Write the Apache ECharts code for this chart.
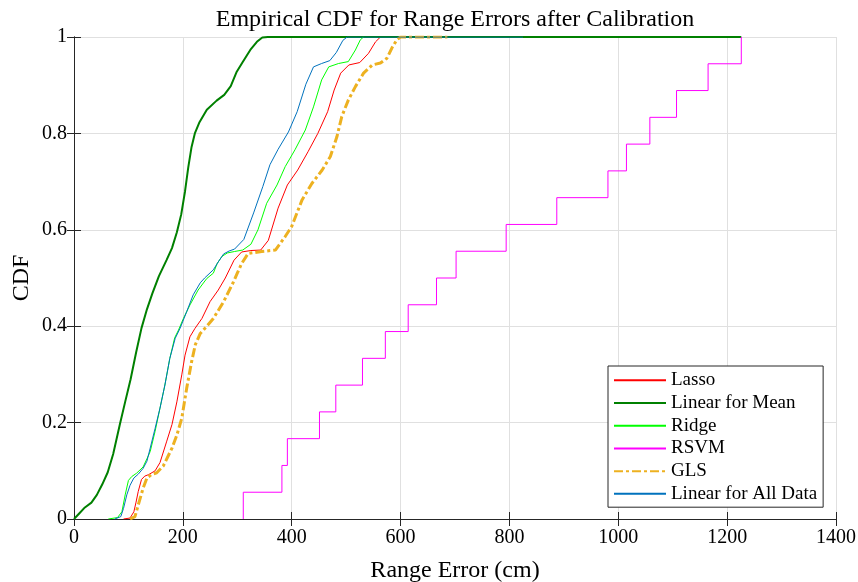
<!DOCTYPE html>
<html>
<head>
<meta charset="utf-8">
<script src="https://cdn.jsdelivr.net/npm/echarts@6/dist/echarts.min.js"></script>
<style>
  html, body { margin: 0; padding: 0; background: #ffffff; }
  #chart { width: 858px; height: 582px; }
</style>
</head>
<body>
<div id="chart"></div>
<script>
// Empirical CDF curves: [range error (cm), cumulative probability]
const lasso = [
  [91,0],[103,0.002],[110,0.015],[114,0.035],[118,0.057],[124,0.082],[130,0.089],[137,0.092],
  [149,0.1],[158,0.117],[170,0.16],[180,0.196],[189,0.243],[198,0.299],[204,0.34],[213,0.378],
  [222,0.395],[235,0.416],[250,0.451],[265,0.475],[278,0.5],[294,0.537],[308,0.554],[325,0.557],
  [343,0.558],[357,0.578],[375,0.645],[392,0.693],[411,0.724],[430,0.762],[448,0.8],[466,0.845],
  [478,0.89],[490,0.925],[505,0.942],[525,0.947],[541,0.966],[554,0.99],[563,1]
];
const linearMean = [
  [0,0],[10,0.012],[20,0.024],[32,0.034],[42,0.05],[52,0.072],[62,0.097],[72,0.135],[84,0.195],
  [94,0.243],[104,0.29],[114,0.345],[124,0.396],[134,0.435],[144,0.468],[156,0.504],[170,0.537],
  [180,0.562],[189,0.595],[197,0.632],[204,0.68],[210,0.73],[216,0.772],[222,0.8],[230,0.822],
  [244,0.849],[262,0.868],[276,0.88],[288,0.898],[299,0.928],[310,0.948],[325,0.975],
  [336,0.99],[346,0.999],[356,1],[1226,1]
];
const ridge = [
  [63,0],[80,0.003],[88,0.015],[94,0.05],[100,0.08],[106,0.088],[115,0.095],[127,0.108],
  [134,0.125],[140,0.14],[149,0.182],[158,0.23],[167,0.278],[176,0.333],[185,0.376],[192,0.392],
  [201,0.416],[213,0.444],[228,0.475],[244,0.499],[256,0.51],[263,0.53],[272,0.545],[282,0.552],
  [295,0.555],[310,0.558],[325,0.57],[338,0.6],[354,0.655],[373,0.693],[388,0.731],[406,0.766],
  [425,0.807],[440,0.855],[455,0.911],[468,0.938],[486,0.945],[504,0.949],[517,0.973],[526,0.994],
  [532,1]
];
// RSVM errors (cm); its CDF is the step function of these samples
const rsvmErrors = [311, 382, 392, 451, 481, 530, 572, 614, 666, 702, 794, 887, 981, 1015, 1058, 1107, 1165, 1226];
const gls = [
  [103,0],[112,0.005],[118,0.029],[127,0.064],[134,0.085],[142,0.092],[152,0.096],[164,0.11],
  [180,0.147],[189,0.174],[198,0.209],[207,0.271],[216,0.326],[223,0.362],[232,0.385],[244,0.4],
  [256,0.416],[275,0.451],[293,0.492],[300,0.51],[308,0.53],[320,0.551],[345,0.555],[370,0.558],
  [388,0.586],[400,0.607],[419,0.662],[437,0.696],[456,0.724],[471,0.752],[483,0.793],[492,0.835],
  [504,0.869],[517,0.897],[532,0.925],[548,0.942],[563,0.946],[575,0.956],[584,0.977],[593,0.994],
  [600,1],[686,1]
];
const linearAll = [
  [75,0],[86,0.005],[91,0.022],[97,0.05],[103,0.07],[110,0.085],[118,0.093],[127,0.105],
  [134,0.12],[140,0.147],[149,0.188],[158,0.23],[167,0.278],[176,0.333],[186,0.375],[195,0.396],
  [207,0.43],[219,0.465],[232,0.49],[240,0.5],[256,0.517],[266,0.535],[275,0.55],[285,0.556],
  [295,0.56],[312,0.58],[330,0.635],[347,0.69],[360,0.735],[375,0.767],[394,0.803],[410,0.845],
  [426,0.902],[440,0.938],[455,0.945],[470,0.951],[482,0.968],[494,0.993],[502,1],[825,1]
];

const seriesNames = ['Lasso', 'Linear for Mean', 'Ridge', 'RSVM', 'GLS', 'Linear for All Data'];
const xTicks = { min: 0, max: 1400, step: 200 };
const yTicks = { min: 0, max: 1, step: 0.2 };

function ecdf(samples) {
  const s = samples.slice().sort((a, b) => a - b);
  const n = s.length;
  const pts = [[s[0], 0]];
  s.forEach((v, i) => pts.push([v, (i + 1) / n]));
  return pts;
}

const FONT = "'Liberation Serif', 'Times New Roman', serif";
const AXIS_COLOR = '#262626';

const chart = echarts.init(document.getElementById('chart'), null, { renderer: 'canvas' });

function lineSeries(name, data, color, width, extra) {
  return Object.assign({
    name: name,
    type: 'line',
    data: data,
    showSymbol: false,
    symbol: 'none',
    smooth: false,
    animation: false,
    xAxisIndex: 0,
    yAxisIndex: 0,
    lineStyle: { color: color, width: width },
    itemStyle: { color: color }
  }, extra || {});
}

const frameAxis = {
  axisLine: { show: true, lineStyle: { color: AXIS_COLOR, width: 1 } },
  axisTick: { show: true, inside: true, length: 7, lineStyle: { color: AXIS_COLOR, width: 1 } },
  axisLabel: { show: false },
  splitLine: { show: false }
};

const option = {
  backgroundColor: '#ffffff',
  animation: false,
  title: {
    text: 'Empirical CDF for Range Errors after Calibration',
    left: 455,
    top: 8,
    textAlign: 'center',
    padding: 0,
    textStyle: { fontFamily: FONT, fontSize: 24, fontWeight: 'normal', color: '#000000' }
  },
  grid: {
    left: 74, right: 22, top: 37, bottom: 63,
    containLabel: false,
    outerBoundsMode: 'none'
  },
  legend: {
    data: seriesNames,
    orient: 'vertical',
    left: 608,
    top: 366,
    padding: [3, 6, 2, 5],
    itemGap: 0,
    itemWidth: 52,
    itemHeight: 14,
    backgroundColor: '#ffffff',
    borderColor: AXIS_COLOR,
    borderWidth: 1,
    borderRadius: 0,
    itemStyle: { opacity: 0 },
    textStyle: { fontFamily: FONT, fontSize: 19, color: '#000000', lineHeight: 22.7 }
  },
  xAxis: [
    {
      type: 'value', position: 'bottom',
      min: xTicks.min, max: xTicks.max, interval: xTicks.step,
      name: 'Range Error (cm)', nameLocation: 'middle', nameGap: 40, nameMoveOverlap: false,
      nameTextStyle: { fontFamily: FONT, fontSize: 24, color: '#000000' },
      axisLine: { show: true, onZero: false, lineStyle: { color: AXIS_COLOR, width: 1 } },
      axisTick: { show: true, inside: true, length: 7, lineStyle: { color: AXIS_COLOR, width: 1 } },
      axisLabel: {
        show: true, margin: 9, fontFamily: FONT, fontSize: 20, color: '#000000',
        formatter: (v) => String(v)
      },
      splitLine: { show: true, lineStyle: { color: '#e0e0e0', width: 1 } }
    },
    Object.assign({
      type: 'value', position: 'top',
      min: xTicks.min, max: xTicks.max, interval: xTicks.step
    }, frameAxis)
  ],
  yAxis: [
    {
      type: 'value', position: 'left',
      min: yTicks.min, max: yTicks.max, interval: yTicks.step,
      name: 'CDF', nameLocation: 'middle', nameGap: 40, nameMoveOverlap: false,
      nameTextStyle: { fontFamily: FONT, fontSize: 24, color: '#000000' },
      axisLine: { show: true, onZero: false, lineStyle: { color: AXIS_COLOR, width: 1 } },
      axisTick: { show: true, inside: true, length: 7, lineStyle: { color: AXIS_COLOR, width: 1 } },
      axisLabel: { show: true, margin: 7, fontFamily: FONT, fontSize: 20, color: '#000000' },
      splitLine: { show: true, lineStyle: { color: '#e0e0e0', width: 1 } }
    },
    Object.assign({
      type: 'value', position: 'right',
      min: yTicks.min, max: yTicks.max, interval: yTicks.step
    }, frameAxis)
  ],
  series: [
    lineSeries(seriesNames[0], lasso, '#ff0000', 1),
    lineSeries(seriesNames[1], linearMean, '#008000', 2),
    lineSeries(seriesNames[2], ridge, '#00ff00', 1),
    lineSeries(seriesNames[3], ecdf(rsvmErrors), '#ff00ff', 1, { step: 'end' }),
    lineSeries(seriesNames[4], gls, '#edb120', 3, {
      lineStyle: { color: '#edb120', width: 3, type: [9, 3, 3, 3] }
    }),
    lineSeries(seriesNames[5], linearAll, '#0072bd', 1)
  ]
};

chart.setOption(option);
</script>
</body>
</html>
